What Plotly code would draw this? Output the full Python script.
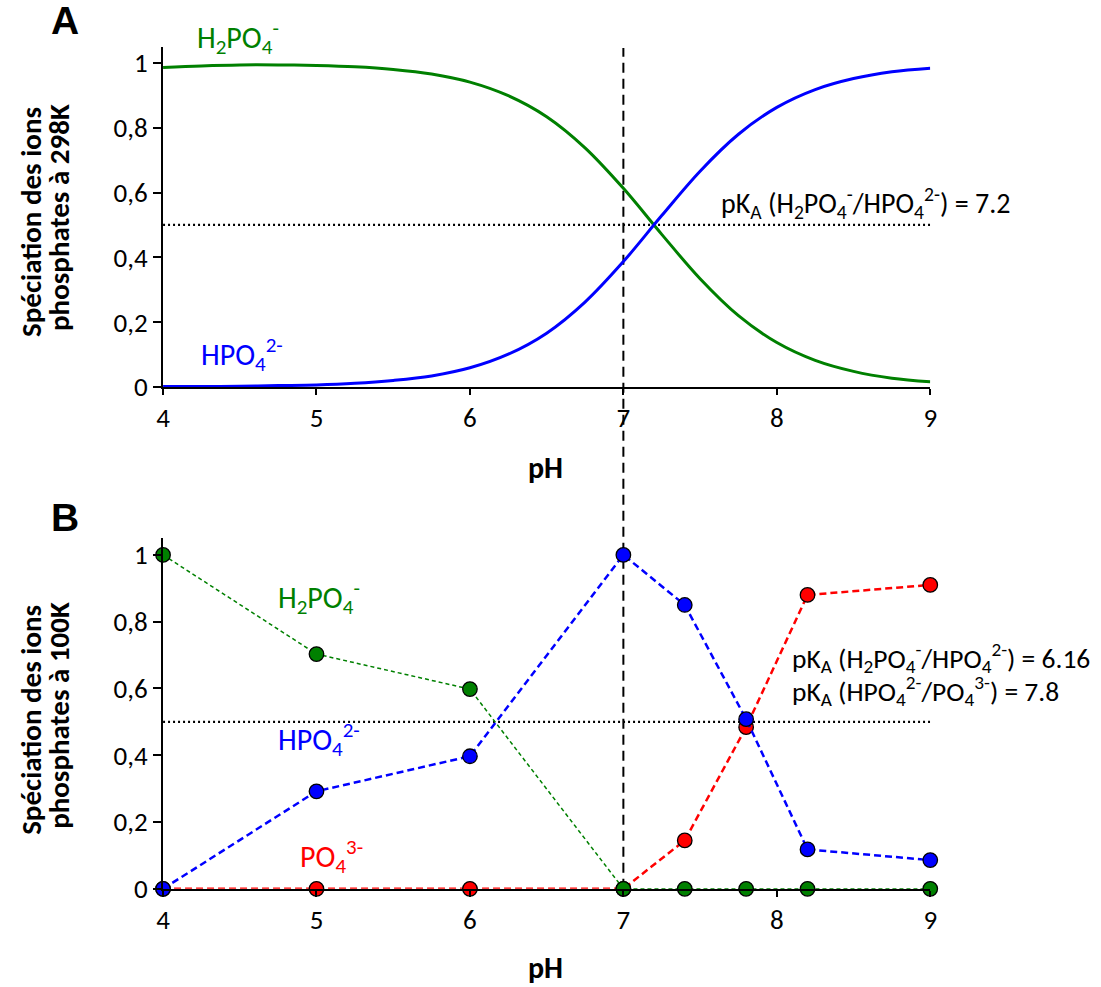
import plotly.graph_objects as go

# ---------------- data ----------------
# Panel A (298 K), smooth speciation curves
ph_a = [4.0, 4.25, 4.5, 4.75, 5.0, 5.25, 5.5, 5.75, 6.0, 6.25, 6.5, 6.75,
        7.0, 7.25, 7.5, 7.75, 8.0, 8.25, 8.5, 8.75, 9.0]
h2po4_a = [0.986, 0.991, 0.994, 0.994, 0.992, 0.988, 0.980, 0.966, 0.941, 0.899,
           0.834, 0.738, 0.613, 0.471, 0.334, 0.220, 0.137, 0.082, 0.048, 0.027, 0.016]
hpo4_a = [0.001, 0.001, 0.002, 0.004, 0.006, 0.011, 0.020, 0.034, 0.059, 0.101,
          0.166, 0.262, 0.387, 0.529, 0.666, 0.780, 0.863, 0.918, 0.952, 0.973, 0.984]

# Panel B (100 K), computed points
ph_b = [4, 5, 6, 7, 7.4, 7.8, 8.2, 9]
h2po4_b = [1.0, 0.703, 0.598, 0.0, 0.0, 0.0, 0.0, 0.0]
hpo4_b = [0.0, 0.292, 0.397, 1.0, 0.85, 0.508, 0.118, 0.086]
po4_b = [0.0, 0.0, 0.0, 0.0, 0.145, 0.484, 0.88, 0.91]

x_ticks = [4, 5, 6, 7, 8, 9]
y_ticks = [0, 0.2, 0.4, 0.6, 0.8, 1]
y_ticktext = ["0", "0,2", "0,4", "0,6", "0,8", "1"]

pka_line = 0.5
ph_ref = 7

GREEN = "#008000"
BLUE = "#0000FF"
RED = "#FF0000"

W, H = 1101, 987


def px(x):
    # target pixel -> paper fraction (compensating the capture's slight shrink)
    return ((x - 6) / 0.987) / W


def py(y):
    return 1 - (y / 0.984) / H


FONT = "Carlito, Calibri, Lato, sans-serif"

fig = go.Figure()

# Panel A
fig.add_trace(go.Scatter(x=ph_a, y=h2po4_a, mode="lines", line=dict(color=GREEN, width=3, shape="spline"),
                         xaxis="x", yaxis="y", showlegend=False))
fig.add_trace(go.Scatter(x=ph_a, y=hpo4_a, mode="lines", line=dict(color=BLUE, width=3, shape="spline"),
                         xaxis="x", yaxis="y", showlegend=False))

# Panel B
mk = dict(size=14.5, line=dict(color="black", width=1.3))
fig.add_trace(go.Scatter(x=ph_b, y=po4_b, mode="lines+markers",
                         line=dict(color=RED, width=2.5, dash="7px,4px"),
                         marker=dict(color=RED, **mk), xaxis="x2", yaxis="y2", showlegend=False, cliponaxis=False))
fig.add_trace(go.Scatter(x=ph_b, y=hpo4_b, mode="lines+markers",
                         line=dict(color=BLUE, width=2.5, dash="7px,4px"),
                         marker=dict(color=BLUE, **mk), xaxis="x2", yaxis="y2", showlegend=False, cliponaxis=False))
fig.add_trace(go.Scatter(x=ph_b, y=h2po4_b, mode="lines+markers",
                         line=dict(color=GREEN, width=1.5, dash="4px,3px"),
                         marker=dict(color=GREEN, **mk), xaxis="x2", yaxis="y2", showlegend=False, cliponaxis=False))

x_dom = [px(162), px(929)]
yA_dom = [py(387), py(387 - 1.05 * 324)]
yB_dom = [py(889), py(889 - 1.05 * 334)]

axis_common = dict(showgrid=False, zeroline=False, showline=True, linecolor="black", linewidth=2,
                   ticks="outside", tickcolor="black", tickwidth=1.5,
                   tickfont=dict(family=FONT, size=27, color="black"))

fig.update_layout(
    width=W, height=H,
    margin=dict(l=0, r=0, t=0, b=0),
    plot_bgcolor="white", paper_bgcolor="white",
    xaxis=dict(domain=x_dom, anchor="y", range=[4, 9], tickvals=x_ticks, ticklen=6, **axis_common),
    yaxis=dict(domain=yA_dom, anchor="x", range=[0, 1.05], tickvals=y_ticks, ticktext=y_ticktext,
               ticklen=8, **axis_common),
    xaxis2=dict(domain=x_dom, anchor="y2", range=[4, 9], tickvals=x_ticks, ticklen=6, **axis_common),
    yaxis2=dict(domain=yB_dom, anchor="x2", range=[0, 1.05], tickvals=y_ticks, ticktext=y_ticktext,
                ticklen=8, **axis_common),
)

# dotted lines at 0.5
for xr, yr in (("x", "y"), ("x2", "y2")):
    fig.add_shape(type="line", xref=xr, yref=yr, x0=4, x1=9, y0=pka_line, y1=pka_line,
                  line=dict(color="black", width=2.2, dash="2px,3px"), layer="below")

# vertical dashed line at pH 7 spanning both panels
fig.add_shape(type="line", xref="x", yref="paper", x0=ph_ref, x1=ph_ref, y0=py(889), y1=py(48),
              line=dict(color="black", width=2, dash="10px,6px"), layer="below")

ann = []


def text(x, y, t, size=22, color="black", xanchor="center", bold=False, family=FONT, angle=0):
    ann.append(dict(x=px(x), y=py(y), xref="paper", yref="paper", text=t, showarrow=False,
                    xanchor=xanchor, yanchor="middle", textangle=angle,
                    font=dict(family=family, size=size, color=color,
                              weight="bold" if bold else "normal")))


H2PO4 = "H<sub>2</sub>PO<sub>4</sub><sup>-</sup>"
HPO4 = "HPO<sub>4</sub><sup>2-</sup>"
PO4 = "PO<sub>4</sub><sup>3-</sup>"

text(64, 21, "A", size=39, bold=True, family="Liberation Sans, Arial")
text(64, 518, "B", size=39, bold=True, family="Liberation Sans, Arial")

SP = 30
text(237, 38, H2PO4, size=SP, color=GREEN)
text(241, 355, HPO4, size=SP, color=BLUE)
text(718, 203, "pK<sub>A</sub> (" + H2PO4 + "/" + HPO4 + ") = 7.2", size=28, xanchor="left")

text(318, 598, H2PO4, size=SP, color=GREEN)
text(318, 740, HPO4, size=SP, color=BLUE)
text(330, 857, PO4, size=SP, color=RED)
text(789, 658, "pK<sub>A</sub> (" + H2PO4 + "/" + HPO4 + ") = 6.16", size=27.5, xanchor="left")
text(789, 691, "pK<sub>A</sub> (" + HPO4 + "/" + PO4 + ") = 7.8", size=27.5, xanchor="left")

text(544, 468, "pH", size=30, bold=True)
text(544, 968, "pH", size=30, bold=True)

text(30, 222, "Spéciation des ions", size=29, bold=True, angle=-90)
text(58, 218, "phosphates à 298K", size=29, bold=True, angle=-90)
text(30, 720, "Spéciation des ions", size=29, bold=True, angle=-90)
text(58, 716, "phosphates à 100K", size=29, bold=True, angle=-90)

fig.update_layout(annotations=ann)

fig.write_html(
    "out.html",
    config={"displayModeBar": False},
    post_script=("document.documentElement.style.margin='0';document.body.style.margin='0';"
                 "document.body.style.padding='0';document.body.style.overflow='hidden';"
                 "document.documentElement.style.overflow='hidden';"),
)
